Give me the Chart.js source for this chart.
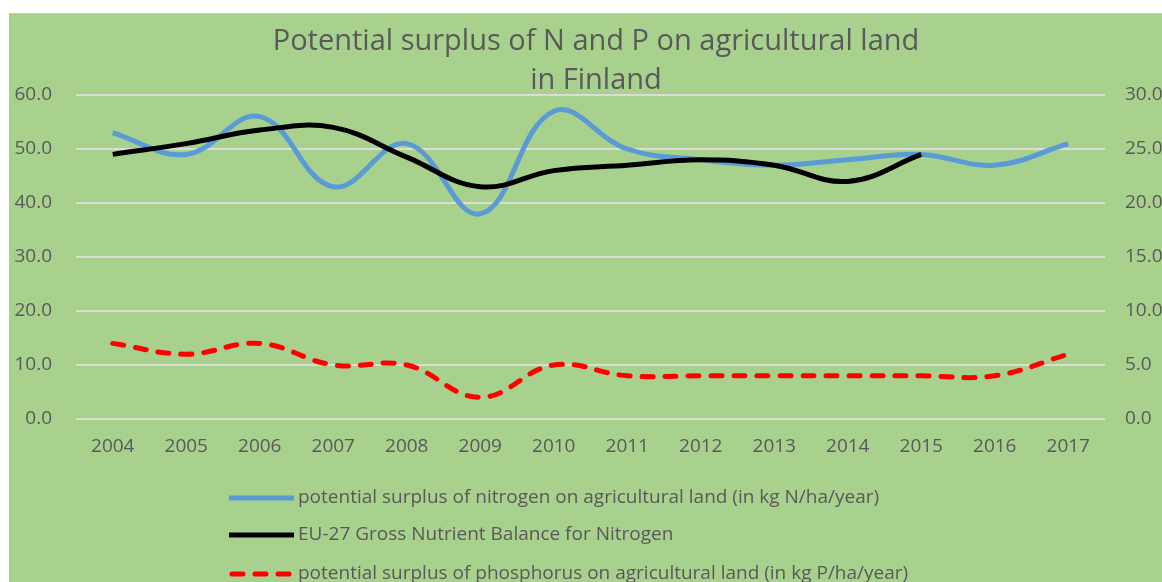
<!DOCTYPE html>
<html><head><meta charset="utf-8">
<script src="https://cdn.jsdelivr.net/npm/chart.js@4.4.1/dist/chart.umd.min.js"></script>
<style>
html,body{margin:0;padding:0;background:#fff;width:1162px;height:582px;overflow:hidden;}
#wrap{position:absolute;left:9px;top:13px;width:1174px;height:600px;background:#a9d18e;border-top:1px solid #c4c9c0;}
canvas{display:block;}
</style></head><body>
<div id="wrap"><canvas id="c" width="1174" height="600"></canvas></div>
<script>
const years = ['2004','2005','2006','2007','2008','2009','2010','2011','2012','2013','2014','2015','2016','2017'];
const nitrogenSurplus = [53, 49, 56, 43, 51, 38, 57, 50, 48, 47, 48, 49, 47, 51];
const eu27Balance = [49, 51, 53.5, 54, 48.5, 43, 46, 47, 48, 47, 44, 49, null, null];
const phosphorusSurplus = [7, 6, 7, 5, 5, 2, 5, 4, 4, 4, 4, 4, 4, 6];
const leftAxis = {min: 0, max: 60, step: 10};
const rightAxis = {min: 0, max: 30, step: 5};
const titleLines = ['Potential surplus of N and P on agricultural land', 'in Finland'];
const seriesLabels = [
  'potential surplus of nitrogen on agricultural land (in kg N/ha/year)',
  'EU-27 Gross Nutrient Balance for Nitrogen',
  'potential surplus of phosphorus on agricultural land (in kg P/ha/year)'
];

const FONT = '"Open Sans", Lato, sans-serif';
const TXT = '#595959';

const legendPlugin = {
  id: 'stackedLegend',
  afterDraw(chart) {
    const ctx = chart.ctx;
    const x0 = 220, lineLen = 65, textX = 289;
    const ys = [484, 521, 560];
    ctx.save();
    ctx.font = '19px ' + FONT;
    ctx.textBaseline = 'middle';
    ctx.fillStyle = TXT;
    chart.data.datasets.forEach((ds, i) => {
      const y = ys[i];
      const dashed = ds.borderDash && ds.borderDash.length;
      ctx.beginPath();
      ctx.lineWidth = ds.borderWidth;
      ctx.strokeStyle = ds.borderColor;
      ctx.lineCap = dashed ? 'round' : 'butt';
      ctx.setLineDash(ds.borderDash || []);
      ctx.moveTo(x0 + (dashed ? 3 : 0), y);
      ctx.lineTo(x0 + lineLen, y);
      ctx.stroke();
      ctx.setLineDash([]);
      ctx.fillText(ds.label, textX, y);
    });
    ctx.restore();
  }
};

new Chart(document.getElementById('c'), {
  type: 'line',
  data: {
    labels: years,
    datasets: [
      {label: seriesLabels[0], data: nitrogenSurplus, yAxisID: 'y', borderColor: '#5b9bd5', borderWidth: 5, tension: 0.4, pointRadius: 0, fill: false, order: 2},
      {label: seriesLabels[1], data: eu27Balance, yAxisID: 'y', borderColor: '#000000', borderWidth: 5, tension: 0.4, pointRadius: 0, fill: false, order: 1},
      {label: seriesLabels[2], data: phosphorusSurplus, yAxisID: 'y2', borderColor: '#ff0000', borderWidth: 5, borderDash: [11, 12], borderCapStyle: 'round', tension: 0.4, pointRadius: 0, fill: false, order: 0}
    ]
  },
  options: {
    responsive: false,
    animation: false,
    layout: {padding: {left: 0, right: 0, top: 0, bottom: 155}},
    plugins: {
      legend: {display: false},
      tooltip: {enabled: false},
      title: {
        display: true,
        text: titleLines,
        color: TXT,
        font: {family: FONT, size: 29, weight: 'normal', lineHeight: 1.35},
        padding: {top: 8, bottom: -5.3}
      }
    },
    scales: {
      x: {
        offset: true,
        grid: {display: false, drawTicks: false, offset: true},
        border: {display: false},
        ticks: {color: TXT, font: {family: FONT, size: 19}, padding: 16, maxRotation: 0, autoSkip: false},
        afterFit(s) { s.height = 40; }
      },
      y: {
        position: 'left',
        min: leftAxis.min, max: leftAxis.max,
        grid: {color: '#dcdcd6', lineWidth: 2, drawTicks: false},
        border: {display: false},
        ticks: {stepSize: leftAxis.step, color: TXT, font: {family: FONT, size: 19}, padding: 24, callback: v => v.toFixed(1)},
        afterFit(s) { s.width = 67; }
      },
      y2: {
        position: 'right',
        min: rightAxis.min, max: rightAxis.max,
        grid: {display: false, drawTicks: false},
        border: {display: false},
        ticks: {stepSize: rightAxis.step, color: TXT, font: {family: FONT, size: 19}, padding: 20, callback: v => v.toFixed(1)},
        afterFit(s) { s.width = 78; }
      }
    }
  },
  plugins: [legendPlugin]
});
</script>
</body></html>
